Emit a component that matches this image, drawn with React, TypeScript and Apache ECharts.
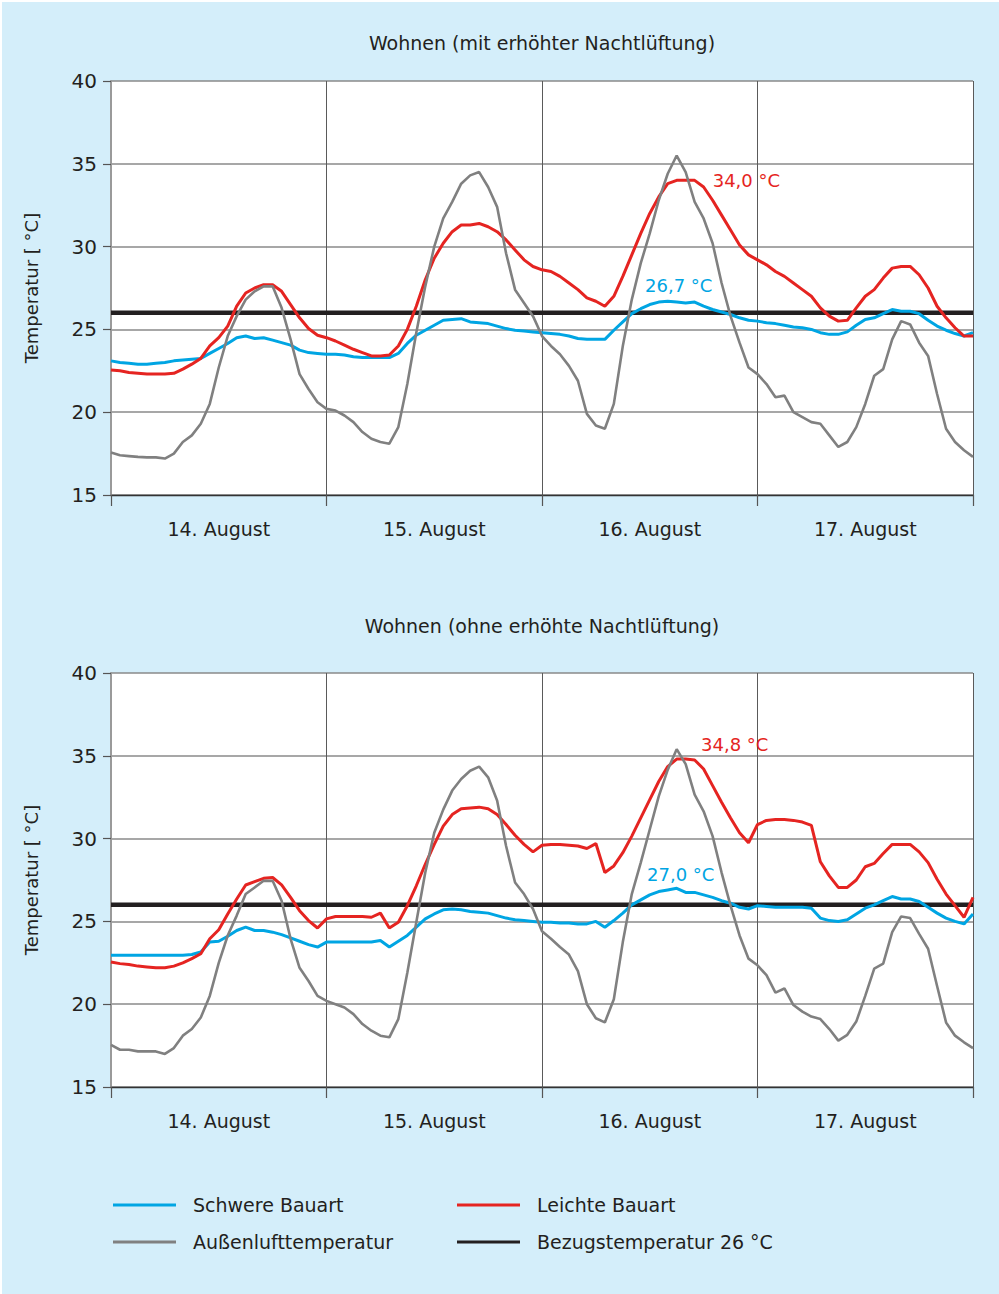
import React, { useEffect, useRef } from "react";
import * as echarts from "echarts";

// Hourly temperatures (°C), hour 0 = 14 August 00:00, hour 96 = 18 August 00:00
const DAY_LABELS = ["14. August", "15. August", "16. August", "17. August"];
const Y_TICKS = [15, 20, 25, 30, 35, 40];
const REF_TEMP = 26;

const TITLES = ["Wohnen (mit erhöhter Nachtlüftung)", "Wohnen (ohne erhöhte Nachtlüftung)"];

const SERIES_NAMES = {
  heavy: "Schwere Bauart",
  light: "Leichte Bauart",
  outdoor: "Außenlufttemperatur",
  ref: "Bezugstemperatur 26 °C",
};

// Panel 1: with increased night ventilation
const OUTDOOR_1 = [
  17.56, 17.4, 17.35, 17.3, 17.27, 17.27, 17.2, 17.5, 18.2, 18.6,
  19.3, 20.5, 22.7, 24.6, 25.8, 26.8, 27.3, 27.6, 27.6, 26.3,
  24.4, 22.3, 21.4, 20.6, 20.2, 20.1, 19.8, 19.4, 18.8, 18.4,
  18.2, 18.1, 19.1, 21.7, 24.8, 27.6, 30.0, 31.7, 32.7, 33.8,
  34.3, 34.5, 33.6, 32.4, 29.6, 27.4, 26.6, 25.8, 24.6, 24.0,
  23.5, 22.8, 21.9, 19.9, 19.2, 19.0, 20.5, 24.0, 26.8, 29.0,
  30.8, 32.8, 34.4, 35.5, 34.5, 32.7, 31.7, 30.2, 27.8, 25.8,
  24.2, 22.7, 22.3, 21.7, 20.9, 21.0, 20.0, 19.7, 19.4, 19.3,
  18.6, 17.9, 18.2, 19.1, 20.5, 22.2, 22.6, 24.4, 25.5, 25.3,
  24.2, 23.4, 21.1, 19.0, 18.2, 17.7, 17.3,
];
const LIGHT_1 = [
  22.55, 22.5, 22.4, 22.35, 22.3, 22.3, 22.3, 22.35, 22.6, 22.9,
  23.25, 24.0, 24.5, 25.2, 26.4, 27.2, 27.5, 27.7, 27.7, 27.3,
  26.5, 25.7, 25.05, 24.65, 24.5, 24.3, 24.05, 23.8, 23.6, 23.4,
  23.4, 23.45, 24.0, 25.0, 26.4, 28.0, 29.3, 30.2, 30.9, 31.3,
  31.3, 31.4, 31.2, 30.9, 30.4, 29.8, 29.2, 28.8, 28.6, 28.5,
  28.2, 27.8, 27.4, 26.9, 26.7, 26.4, 27.0, 28.2, 29.5, 30.8,
  32.0, 33.0, 33.8, 34.0, 34.0, 34.0, 33.6, 32.8, 31.9, 31.0,
  30.1, 29.5, 29.2, 28.9, 28.5, 28.2, 27.8, 27.4, 27.0, 26.3,
  25.8, 25.5, 25.55, 26.3, 27.0, 27.4, 28.1, 28.7, 28.8, 28.8,
  28.3, 27.5, 26.4, 25.7, 25.1, 24.6, 24.6,
];
const HEAVY_1 = [
  23.1, 23.0, 22.95, 22.9, 22.9, 22.95, 23.0, 23.1, 23.15, 23.2,
  23.25, 23.55, 23.85, 24.15, 24.5, 24.6, 24.45, 24.5, 24.35, 24.2,
  24.05, 23.75, 23.6, 23.55, 23.5, 23.5, 23.45, 23.35, 23.3, 23.3,
  23.3, 23.3, 23.55, 24.15, 24.65, 24.95, 25.25, 25.55, 25.6, 25.65,
  25.45, 25.4, 25.35, 25.2, 25.05, 24.95, 24.9, 24.85, 24.8, 24.75,
  24.7, 24.6, 24.45, 24.4, 24.4, 24.4, 24.95, 25.45, 25.95, 26.25,
  26.5, 26.65, 26.7, 26.65, 26.6, 26.65, 26.4, 26.2, 26.05, 25.9,
  25.7, 25.55, 25.5, 25.4, 25.35, 25.25, 25.15, 25.1, 25.0, 24.8,
  24.7, 24.7, 24.85, 25.25, 25.6, 25.7, 25.95, 26.2, 26.1, 26.1,
  25.95, 25.55, 25.2, 24.95, 24.75, 24.6, 24.8,
];

// Panel 2: without increased night ventilation
const OUTDOOR_2 = [
  17.55, 17.25, 17.25, 17.15, 17.15, 17.15, 17.0, 17.35, 18.1, 18.5,
  19.2, 20.5, 22.5, 24.15, 25.35, 26.65, 27.05, 27.45, 27.45, 26.25,
  23.95, 22.2, 21.4, 20.5, 20.2, 20.0, 19.8, 19.4, 18.8, 18.4,
  18.1, 18.0, 19.1, 21.9, 24.95, 27.95, 30.35, 31.75, 32.9, 33.6,
  34.1, 34.35, 33.7, 32.3, 29.55, 27.35, 26.65, 25.75, 24.4, 23.95,
  23.45, 23.0, 22.0, 20.0, 19.15, 18.9, 20.3, 23.75, 26.65, 28.55,
  30.55, 32.55, 34.15, 35.4, 34.5, 32.65, 31.65, 30.15, 27.95, 25.95,
  24.15, 22.75, 22.35, 21.75, 20.7, 20.95, 19.95, 19.55, 19.25, 19.1,
  18.5, 17.8, 18.15, 18.95, 20.5, 22.15, 22.45, 24.35, 25.3, 25.2,
  24.25, 23.35, 21.1, 18.9, 18.1, 17.7, 17.35,
];
const LIGHT_2 = [
  22.55, 22.45, 22.4, 22.3, 22.25, 22.2, 22.2, 22.3, 22.5, 22.75,
  23.05, 23.95, 24.5, 25.45, 26.35, 27.2, 27.4, 27.6, 27.65, 27.2,
  26.45, 25.65, 25.05, 24.6, 25.15, 25.3, 25.3, 25.3, 25.3, 25.25,
  25.5, 24.6, 24.95, 25.95, 27.15, 28.45, 29.65, 30.75, 31.45, 31.8,
  31.85, 31.9, 31.8, 31.45, 30.85, 30.2, 29.65, 29.2, 29.6, 29.65,
  29.65, 29.6, 29.55, 29.4, 29.7, 27.95, 28.35, 29.15, 30.15, 31.25,
  32.35, 33.45, 34.35, 34.8, 34.8, 34.75, 34.2, 33.2, 32.2, 31.25,
  30.35, 29.75, 30.85, 31.1, 31.15, 31.15, 31.1, 31.0, 30.8, 28.6,
  27.75, 27.05, 27.05, 27.5, 28.3, 28.5, 29.1, 29.65, 29.65, 29.65,
  29.2, 28.55, 27.55, 26.65, 25.95, 25.25, 26.45,
];
const HEAVY_2 = [
  22.95, 22.95, 22.95, 22.95, 22.95, 22.95, 22.95, 22.95, 22.95, 23.0,
  23.15, 23.75, 23.8, 24.1, 24.45, 24.65, 24.45, 24.45, 24.35, 24.2,
  24.0, 23.8, 23.6, 23.45, 23.75, 23.75, 23.75, 23.75, 23.75, 23.75,
  23.85, 23.45, 23.8, 24.15, 24.65, 25.15, 25.45, 25.7, 25.75, 25.7,
  25.6, 25.55, 25.5, 25.35, 25.2, 25.1, 25.05, 25.0, 24.95, 24.95,
  24.9, 24.9, 24.85, 24.85, 25.0, 24.65, 25.05, 25.5, 26.0, 26.3,
  26.6, 26.8, 26.9, 27.0, 26.75, 26.75, 26.6, 26.45, 26.25, 26.1,
  25.85, 25.75, 25.95, 25.9, 25.85, 25.85, 25.85, 25.85, 25.8, 25.2,
  25.05, 25.0, 25.1, 25.45, 25.8, 26.0, 26.25, 26.5, 26.35, 26.35,
  26.2, 25.85, 25.5, 25.2, 25.0, 24.85, 25.45,
];

const PANELS = [
  { outdoor: OUTDOOR_1, light: LIGHT_1, heavy: HEAVY_1 },
  { outdoor: OUTDOOR_2, light: LIGHT_2, heavy: HEAVY_2 },
];

const C_BLUE = "#00a5e3";
const C_RED = "#e52421";
const C_GRAY = "#808080";
const C_BLACK = "#231f20";
const C_BG = "#d4eefa";
const FONT = "DejaVu Sans";

const HOURS_TOTAL = DAY_LABELS.length * 24;

// Grid geometry in page pixels
const GRID_LEFT = 111;
const GRID_WIDTH = 862;
const GRID_TOPS = [81, 673];
const GRID_HEIGHT = 414;
const TITLE_Y = [43, 626];

// Peak label placement per panel: [light, heavy]
const PEAK_LABELS = [
  [
    { position: "right", distance: 36, offset: [0, 0] },
    { position: "top", distance: 7, offset: [11, 0] },
  ],
  [
    { position: "top", distance: 6, offset: [58, 0] },
    { position: "top", distance: 5, offset: [4, 0] },
  ],
];

function peakPoint(values: number[]) {
  let idx = 0;
  values.forEach((v, i) => {
    if (v > values[idx]) idx = i;
  });
  return { idx, value: values[idx] };
}

function fmtTemp(v: number) {
  return v.toFixed(1).replace(".", ",") + " °C";
}

function buildOption() {
  const grids: any[] = [];
  const xAxes: any[] = [];
  const yAxes: any[] = [];
  const series: any[] = [];
  const graphics: any[] = [
    {
      type: "rect",
      shape: { x: 2, y: 2, width: 997, height: 1292 },
      style: { fill: C_BG },
      z: -10,
      silent: true,
    },
  ];

  PANELS.forEach((panel, p) => {
    grids.push({
      left: GRID_LEFT,
      top: GRID_TOPS[p],
      width: GRID_WIDTH,
      height: GRID_HEIGHT,
      show: true,
      backgroundColor: "#ffffff",
      borderWidth: 0,
    });

    // Day boundaries: vertical lines and ticks
    xAxes.push({
      type: "value",
      gridIndex: p,
      min: 0,
      max: HOURS_TOTAL,
      interval: 24,
      axisLine: { show: true, lineStyle: { color: "#333333", width: 1.3 } },
      axisTick: { show: true, length: 11, lineStyle: { color: "#555555", width: 1.2 } },
      axisLabel: { show: false },
      splitLine: { show: true, lineStyle: { color: "#5a5a5a", width: 1 } },
    });
    // Day names centred between the boundaries
    xAxes.push({
      type: "value",
      gridIndex: p,
      min: 0,
      max: HOURS_TOTAL,
      interval: 12,
      position: "bottom",
      axisLine: { show: false },
      axisTick: { show: false },
      splitLine: { show: false },
      axisLabel: {
        show: true,
        margin: 24,
        fontSize: 19,
        fontFamily: FONT,
        color: C_BLACK,
        formatter: (v: number) => (v % 24 === 12 ? DAY_LABELS[(v - 12) / 24] : ""),
      },
    });

    yAxes.push({
      type: "value",
      gridIndex: p,
      min: Y_TICKS[0],
      max: Y_TICKS[Y_TICKS.length - 1],
      interval: Y_TICKS[1] - Y_TICKS[0],
      name: "Temperatur [ °C]",
      nameLocation: "middle",
      nameGap: 71,
      nameTextStyle: { fontSize: 18, fontFamily: FONT, color: C_BLACK },
      axisLine: { show: true, lineStyle: { color: "#9a9a9a", width: 2 } },
      axisTick: { show: true, length: 8, lineStyle: { color: "#555555", width: 1.2 } },
      axisLabel: { fontSize: 20, fontFamily: FONT, color: C_BLACK, margin: 14 },
      splitLine: { show: true, lineStyle: { color: "#8a8a8a", width: 1.5 } },
    });

    const xIdx = p * 2;
    const toData = (arr: number[]) => arr.map((v, i) => [i, v]);

    series.push({
      type: "line",
      name: SERIES_NAMES.ref,
      xAxisIndex: xIdx,
      yAxisIndex: p,
      data: [
        [0, REF_TEMP],
        [HOURS_TOTAL, REF_TEMP],
      ],
      symbol: "none",
      color: C_BLACK,
      itemStyle: { color: C_BLACK },
      lineStyle: { color: C_BLACK, width: 4.5 },
      z: 2,
    });

    const lightPeak = peakPoint(panel.light);
    const heavyPeak = peakPoint(panel.heavy);
    const [lp, hp] = PEAK_LABELS[p];

    const peakMark = (pk: { idx: number; value: number }, lab: any, color: string) => ({
      symbol: "circle",
      symbolSize: 0,
      itemStyle: { color: "rgba(0,0,0,0)" },
      silent: true,
      data: [{ coord: [pk.idx, pk.value], value: pk.value }],
      label: {
        show: true,
        position: lab.position,
        distance: lab.distance,
        offset: lab.offset,
        formatter: () => fmtTemp(pk.value),
        fontSize: 18,
        fontFamily: FONT,
        color,
      },
    });

    series.push({
      type: "line",
      name: SERIES_NAMES.heavy,
      xAxisIndex: xIdx,
      yAxisIndex: p,
      data: toData(panel.heavy),
      symbol: "none",
      color: C_BLUE,
      itemStyle: { color: C_BLUE },
      lineStyle: { color: C_BLUE, width: 3 },
      markPoint: peakMark(heavyPeak, hp, C_BLUE),
      z: 3,
    });
    series.push({
      type: "line",
      name: SERIES_NAMES.light,
      xAxisIndex: xIdx,
      yAxisIndex: p,
      data: toData(panel.light),
      symbol: "none",
      color: C_RED,
      itemStyle: { color: C_RED },
      lineStyle: { color: C_RED, width: 3 },
      markPoint: peakMark(lightPeak, lp, C_RED),
      z: 4,
    });
    series.push({
      type: "line",
      name: SERIES_NAMES.outdoor,
      xAxisIndex: xIdx,
      yAxisIndex: p,
      data: toData(panel.outdoor),
      symbol: "none",
      color: C_GRAY,
      itemStyle: { color: C_GRAY },
      lineStyle: { color: C_GRAY, width: 2.6 },
      z: 5,
    });

    graphics.push({
      type: "text",
      x: GRID_LEFT + GRID_WIDTH / 2,
      y: TITLE_Y[p],
      style: {
        text: TITLES[p],
        fill: C_BLACK,
        font: `19px "${FONT}"`,
        textAlign: "center",
        textVerticalAlign: "middle",
      },
      z: 10,
    });
  });

  const legendBase = {
    orient: "vertical",
    top: 1189,
    itemWidth: 63,
    itemHeight: 3,
    itemGap: 15,
    icon: "rect",
    selectedMode: false,
    textStyle: {
      fontSize: 19,
      fontFamily: FONT,
      color: C_BLACK,
      lineHeight: 22,
      padding: [0, 0, 0, 12],
    },
  };

  return {
    animation: false,
    backgroundColor: "#ffffff",
    grid: grids,
    xAxis: xAxes,
    yAxis: yAxes,
    series,
    graphic: graphics,
    legend: [
      { ...legendBase, left: 108, data: [SERIES_NAMES.heavy, SERIES_NAMES.outdoor] },
      { ...legendBase, left: 452, data: [SERIES_NAMES.light, SERIES_NAMES.ref] },
    ],
  };
}

export default function App() {
  const ref = useRef<HTMLDivElement>(null);

  useEffect(() => {
    document.body.style.margin = "0";
    if (!ref.current) return;
    const chart = echarts.init(ref.current, undefined, { renderer: "svg" });
    chart.setOption(buildOption() as any);
    return () => chart.dispose();
  }, []);

  return <div ref={ref} style={{ width: 999, height: 1294 }} />;
}
